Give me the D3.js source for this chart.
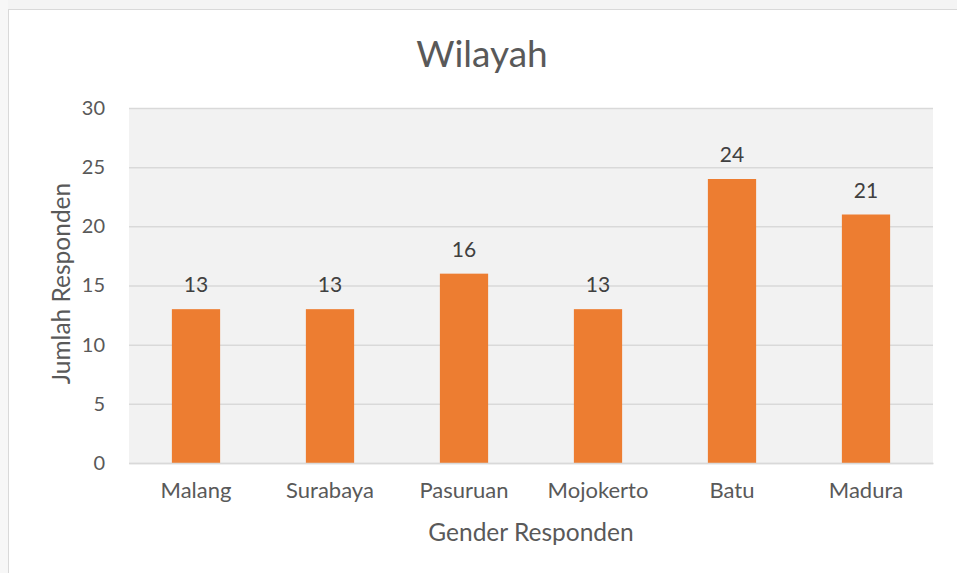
<!DOCTYPE html>
<html>
<head>
<meta charset="utf-8">
<script src="https://cdn.jsdelivr.net/npm/d3@7"></script>
<style>
  body { margin: 0; background: #fff; }
  svg { display: block; }
  svg text { font-family: Lato, "Open Sans", sans-serif; }
</style>
</head>
<body>
<svg id="chart"></svg>
<script>
// chart values
const categories = ["Malang", "Surabaya", "Pasuruan", "Mojokerto", "Batu", "Madura"];
const values = [13, 13, 16, 13, 24, 21];
const yTicks = [0, 5, 10, 15, 20, 25, 30];
const chartTitle = "Wilayah";
const xTitle = "Gender Responden";
const yTitle = "Jumlah Responden";

const W = 957, H = 573;
const margin = {top: 108, right: 24, bottom: 110, left: 129};
const innerW = W - margin.left - margin.right;
const innerH = H - margin.top - margin.bottom;

const svg = d3.select("#chart").attr("width", W).attr("height", H);

// page border of the chart box
svg.append("rect").attr("x", 0).attr("y", 0).attr("width", W).attr("height", 9).attr("fill", "#f4f4f4");
svg.append("rect").attr("x", 0).attr("y", 0).attr("width", 8).attr("height", H).attr("fill", "#f7f7f7");
svg.append("line").attr("x1", 8).attr("x2", W).attr("y1", 9.5).attr("y2", 9.5).attr("stroke", "#d9d9d9");
svg.append("line").attr("x1", 8.5).attr("x2", 8.5).attr("y1", 9).attr("y2", H).attr("stroke", "#d9d9d9");

const g = svg.append("g").attr("transform", `translate(${margin.left},${margin.top})`);

const x = d3.scaleBand().domain(categories).range([0, innerW]).paddingInner(0.64).paddingOuter(0.32);
const y = d3.scaleLinear().domain([0, 30]).range([innerH, 0]);

// plot background
g.append("rect").attr("width", innerW).attr("height", innerH).attr("fill", "#f2f2f2");

// gridlines
g.append("g")
  .call(d3.axisLeft(y).tickValues(yTicks).tickSize(-innerW).tickFormat(""))
  .call(a => a.select(".domain").remove())
  .call(a => a.selectAll("line").attr("stroke", "#d9d9d9").attr("stroke-width", 1.5));

// y tick labels
g.append("g")
  .call(d3.axisLeft(y).tickValues(yTicks).tickSize(0).tickPadding(24))
  .attr("font-family", null)
  .call(a => a.select(".domain").remove())
  .call(a => a.selectAll("text").attr("fill", "#595959").style("font-size", "20px"));

// bars
g.selectAll(".bar").data(values).join("rect")
  .attr("class", "bar")
  .attr("x", (d, i) => x(categories[i]))
  .attr("y", d => y(d))
  .attr("width", x.bandwidth())
  .attr("height", d => innerH - y(d))
  .attr("fill", "#ed7d31");

// data labels
g.selectAll(".lbl").data(values).join("text")
  .attr("class", "lbl")
  .attr("x", (d, i) => x(categories[i]) + x.bandwidth() / 2)
  .attr("y", d => y(d) - 17)
  .attr("text-anchor", "middle")
  .attr("fill", "#404040")
  .style("font-size", "21px")
  .text(d => d);

// x axis
g.append("g")
  .attr("transform", `translate(0,${innerH})`)
  .call(d3.axisBottom(x).tickSize(0).tickPadding(19))
  .attr("font-family", null)
  .call(a => a.select(".domain").attr("stroke", "#d9d9d9").attr("stroke-width", 1.5))
  .call(a => a.selectAll("text").attr("fill", "#595959").style("font-size", "22px"));

// titles
svg.append("text").attr("x", 482).attr("y", 67).attr("text-anchor", "middle")
  .attr("fill", "#595959").style("font-size", "37px").text(chartTitle);
svg.append("text").attr("x", margin.left + innerW / 2).attr("y", 541).attr("text-anchor", "middle")
  .attr("fill", "#595959").style("font-size", "24.5px").text(xTitle);
svg.append("text").attr("transform", `translate(70,${margin.top + innerH / 2 - 2}) rotate(-90)`)
  .attr("text-anchor", "middle").attr("fill", "#595959").style("font-size", "24.5px").text(yTitle);
</script>
</body>
</html>
